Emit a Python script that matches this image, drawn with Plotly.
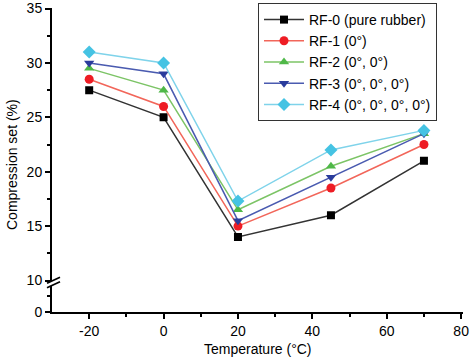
import plotly.graph_objects as go

temperature = [-20, 0, 20, 45, 70]
series_names = ["RF-0 (pure rubber)", "RF-1 (0°)", "RF-2 (0°, 0°)", "RF-3 (0°, 0°, 0°)", "RF-4 (0°, 0°, 0°, 0°)"]
rf0 = [27.5, 25.0, 14.0, 16.0, 21.0]
rf1 = [28.5, 26.0, 15.0, 18.5, 22.5]
rf2 = [29.5, 27.5, 16.5, 20.5, 23.5]
rf3 = [30.0, 29.0, 15.5, 19.5, 23.5]
rf4 = [31.0, 30.0, 17.3, 22.0, 23.8]
x_ticks = [-20, 0, 20, 40, 60, 80]
x_ticklabels = ["-20", "0", "20", "40", "60", "80"]
y_ticks = [10, 15, 20, 25, 30, 35]

marker_colors = ["#000000", "#ee1c24", "#4fb848", "#2a3c9c", "#45c3e3"]
line_colors = ["#333333", "#f2665a", "#7cc466", "#4a5bb0", "#7fd3ea"]
symbols = ["square", "circle", "triangle-up", "triangle-down", "diamond"]
sizes = [8, 9, 9, 9, 10]

FONT = "Liberation Sans, Arial, sans-serif"

fig = go.Figure()
for name, vals, mc, lc, sym, sz in zip(series_names, [rf0, rf1, rf2, rf3, rf4],
                                       marker_colors, line_colors, symbols, sizes):
    fig.add_trace(go.Scatter(
        x=temperature, y=vals, name=name, mode="lines+markers",
        line=dict(color=lc, width=1.5),
        marker=dict(color=mc, symbol=sym, size=sz),
        xaxis="x", yaxis="y2",
    ))
# empty trace so the lower (broken) y-axis segment is rendered
fig.add_trace(go.Scatter(x=[None], y=[None], xaxis="x", yaxis="y",
                         showlegend=False, hoverinfo="skip"))

W, H = 471, 359
ml, mr, mt, mb = 52, 8, 8, 47
ph = H - mt - mb

lower_top = (312 - 286) / ph
upper_bot = (312 - 280.5) / ph

axis_common = dict(
    showline=True, linecolor="black", linewidth=2,
    ticks="outside", ticklen=5, tickwidth=2, tickcolor="black",
    showgrid=False, zeroline=False,
    tickfont=dict(family=FONT, size=14, color="black"),
)

fig.update_layout(
    width=W, height=H,
    margin=dict(l=ml, r=mr, t=mt, b=mb, autoexpand=False),
    paper_bgcolor="white", plot_bgcolor="white",
    font=dict(family=FONT, size=14, color="black"),
    xaxis=dict(
        range=[-30, 80.5], tickvals=x_ticks, ticktext=x_ticklabels, anchor="y",
        minor=dict(tickvals=[-10, 10, 30, 50, 70], ticklen=3, tickwidth=2,
                   tickcolor="black", ticks="outside"),
        **axis_common,
    ),
    yaxis=dict(
        domain=[0, lower_top], range=[0, 8.1], tickvals=[0], anchor="x",
        minor=dict(tickvals=[5], ticklen=3, tickwidth=2, tickcolor="black",
                   ticks="outside"),
        **axis_common,
    ),
    yaxis2=dict(
        domain=[upper_bot, 1], range=[10, 35.05], tickvals=y_ticks, anchor="x",
        minor=dict(tickvals=[12.5, 17.5, 22.5, 27.5, 32.5], ticklen=3, tickwidth=2,
                   tickcolor="black", ticks="outside"),
        **axis_common,
    ),
    legend=dict(
        x=(258 - ml) / (W - ml - mr), y=(312 - 3) / ph, xanchor="left", yanchor="top",
        bordercolor="#333333", borderwidth=1, bgcolor="white",
        font=dict(family=FONT, size=14, color="black"),
        tracegroupgap=0, itemwidth=40,
    ),
    showlegend=True,
)

# axis titles
fig.add_annotation(text="Compression set (%)", xref="paper", yref="paper",
                   x=0, y=(312 - 165) / ph, xanchor="center", yanchor="middle",
                   xshift=-40, textangle=-90, showarrow=False,
                   font=dict(family=FONT, size=14, color="black"))
fig.add_annotation(text="Temperature (°C)", xref="paper", yref="paper",
                   x=0.5, y=0, xanchor="center", yanchor="middle",
                   yshift=-37, showarrow=False,
                   font=dict(family=FONT, size=14, color="black"))

# axis break marks
ya = (312 - 283) / ph
for (x0, y0, x1, y1) in [(-5, -0.3, 8, 5.7), (-5, -4.7, 8, 1.3)]:
    fig.add_shape(type="line", xref="paper", yref="paper",
                  xsizemode="pixel", ysizemode="pixel", xanchor=0, yanchor=ya,
                  x0=x0, y0=y0, x1=x1, y1=y1,
                  line=dict(color="black", width=1.8), layer="above")

fig.write_html("out.html", config={"displayModeBar": False},
               post_script="document.body.style.margin='0px';document.body.style.overflow='hidden';")
